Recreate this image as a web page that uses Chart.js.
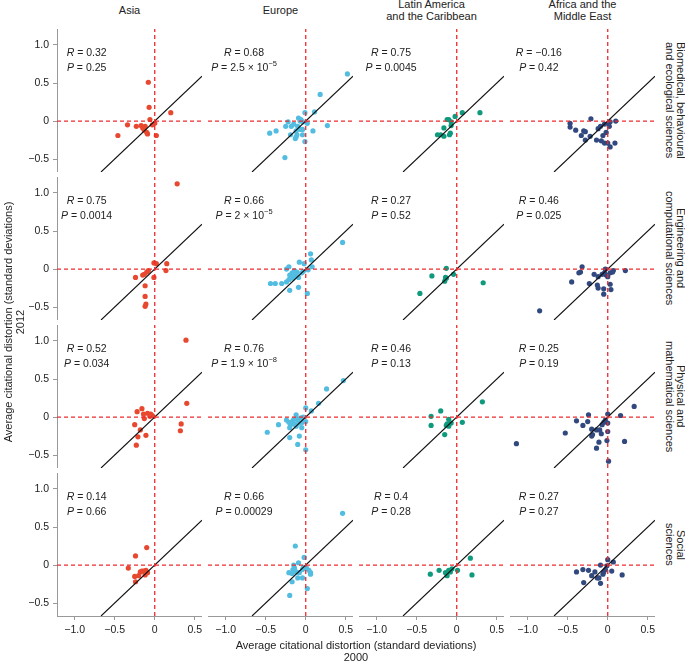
<!DOCTYPE html>
<html>
<head>
<meta charset="utf-8">
<script src="https://cdn.jsdelivr.net/npm/chart.js@4.4.1/dist/chart.umd.min.js"></script>
<style>
    body { margin: 0; background: #fff; font-family: 'Liberation Sans', Arial, sans-serif; color: #222; }
    #wrap { position: relative; width: 685px; height: 662px; overflow: hidden; }
    canvas { position: absolute; }
    .title { position: absolute; font-size: 11px; line-height: 11.5px; text-align: center; white-space: nowrap; }
    .side { position: absolute; writing-mode: vertical-rl; font-size: 11px; line-height: 11px; text-align: center; white-space: nowrap; }
    .axtitle { position: absolute; font-size: 11px; line-height: 12px; text-align: center; white-space: nowrap; }
</style>
</head>
<body>
<div id="wrap"></div>
<script>
// Данные

const regions = ['Asia', 'Europe', 'Latin America<br>and the Caribbean', 'Africa and the<br>Middle East'];
const fields = ['Biomedical, behavioural<br>and ecological sciences', 'Engineering and<br>computational sciences',
    'Physical and<br>mathematical sciences', 'Social<br>sciences'];
const regionColors = ['#e8482f', '#52bde0', '#0f9a7e', '#31497f'];

const xTicks = [-1.0, -0.5, 0, 0.5];
const xTickLabels = ['\u22121.0', '\u22120.5', '0', '0.5'];
const yTicks = [-0.5, 0, 0.5, 1.0];
const yTickLabels = ['\u22120.5', '0', '0.5', '1.0'];
const xRange = [-1.22, 0.59];
const yRange = [-0.67, 1.21];

const rStats = [
    ['0.32', '0.68', '0.75', '\u22120.16'],
    ['0.75', '0.66', '0.27', '0.46'],
    ['0.52', '0.76', '0.46', '0.25'],
    ['0.14', '0.66', '0.4', '0.27']
];
const pStats = [
    ['0.25', '2.5 \u00d7 10^\u22125', '0.0045', '0.42'],
    ['0.0014', '2 \u00d7 10^\u22125', '0.52', '0.025'],
    ['0.034', '1.9 \u00d7 10^\u22128', '0.13', '0.19'],
    ['0.66', '0.00029', '0.28', '0.27']
];

// [2000, 2012]
const asiaBio = [[-0.08,0.51],[-0.07,0.18],[0.20,0.11],[-0.06,0.02],[0.0,-0.03],[-0.03,-0.05],[-0.34,-0.05],[-0.23,-0.07],
    [-0.17,-0.06],[-0.15,-0.09],[-0.12,-0.07],[-0.13,-0.12],[-0.10,-0.15],[-0.09,-0.17],[-0.46,-0.19],[0.02,-0.19]];
const europeBio = [[0.52,0.62],[0.18,0.35],[0.11,0.12],[-0.01,0.11],[-0.09,0.04],[-0.06,0.02],[-0.22,-0.01],[0.27,-0.06],
    [-0.25,-0.07],[-0.18,-0.07],[-0.15,-0.04],[-0.10,-0.07],[-0.07,-0.11],[-0.12,-0.13],[-0.04,-0.11],[0.02,-0.03],
    [0.09,-0.13],[-0.37,-0.13],[-0.45,-0.16],[-0.19,-0.18],[-0.11,-0.18],[-0.04,-0.18],[-0.13,-0.23],[-0.12,-0.21],
    [-0.01,-0.27],[-0.26,-0.48],[-0.07,0.0],[-0.03,-0.01]];
const latinBio = [[0.29,0.11],[0.07,0.11],[-0.02,0.06],[-0.12,0.02],[-0.10,0.02],[-0.07,-0.01],[-0.16,-0.09],[-0.07,-0.06],
    [-0.24,-0.18],[-0.20,-0.18],[-0.16,-0.20],[-0.09,-0.18],[-0.08,-0.16]];
const africaBio = [[-0.21,0.03],[-0.47,-0.03],[-0.47,-0.08],[-0.40,-0.12],[-0.30,-0.13],[-0.28,-0.14],[-0.33,-0.19],[-0.22,-0.20],
    [-0.12,-0.10],[-0.09,-0.07],[-0.04,-0.04],[0.01,-0.03],[0.02,-0.07],[0.10,0.0],[0.03,-0.01],[-0.02,-0.15],
    [-0.14,-0.25],[-0.08,-0.26],[-0.04,-0.29],[0.0,-0.29],[0.09,-0.29],[0.03,-0.34],[-0.28,-0.25],[-0.06,-0.19]];

const asiaEng = [[0.28,1.12],[-0.01,0.08],[0.02,0.07],[0.15,0.07],[0.14,-0.02],[-0.08,-0.02],[-0.10,-0.04],[-0.13,-0.07],
    [-0.15,-0.08],[-0.24,-0.11],[-0.01,-0.11],[-0.12,-0.22],[-0.12,-0.36],[-0.11,-0.46],[-0.12,-0.49]];
const europeEng = [[0.46,0.35],[0.06,0.20],[0.07,0.12],[-0.08,0.09],[-0.02,0.07],[0.08,0.03],[-0.21,0.03],[-0.24,0.0],
    [0.03,-0.01],[-0.11,-0.04],[-0.17,-0.05],[-0.20,-0.08],[-0.15,-0.09],[-0.18,-0.11],[-0.09,-0.11],[-0.21,-0.14],
    [-0.24,-0.17],[-0.30,-0.19],[-0.38,-0.19],[-0.44,-0.19],[-0.09,-0.24],[-0.20,-0.28],[0.02,-0.32],[-0.03,-0.03],
    [-0.05,-0.05],[-0.12,-0.08],[-0.14,-0.02],[-0.16,-0.12]];
const latinEng = [[-0.13,0.01],[-0.31,-0.09],[-0.14,-0.11],[-0.15,-0.16],[-0.04,-0.07],[0.33,-0.18],[-0.46,-0.32],[-0.13,-0.12]];
const africaEng = [[0.22,-0.02],[-0.32,0.03],[-0.34,-0.04],[-0.36,-0.05],[-0.45,-0.17],[-0.23,-0.19],[-0.17,-0.07],[-0.12,-0.10],
    [-0.07,-0.07],[-0.03,0.0],[-0.04,-0.05],[0.0,-0.10],[0.06,-0.04],[0.07,-0.02],[-0.13,-0.21],[-0.12,-0.25],
    [-0.05,-0.26],[0.03,-0.20],[0.04,-0.27],[-0.05,-0.33],[-0.85,-0.55],[-0.02,-0.08],[0.03,-0.05]];

const asiaPhys = [[0.39,1.01],[0.40,0.18],[-0.22,0.07],[-0.16,0.11],[-0.14,0.04],[-0.09,0.05],[-0.05,0.04],[-0.03,0.02],
    [-0.13,-0.02],[-0.06,0.01],[-0.25,-0.10],[-0.18,-0.17],[-0.21,-0.26],[-0.11,-0.24],[-0.23,-0.37],[0.33,-0.09],[0.32,-0.18]];
const europePhys = [[0.47,0.48],[0.26,0.37],[0.16,0.18],[0.07,0.08],[0.0,0.12],[-0.12,0.03],[-0.24,-0.04],[-0.21,-0.07],
    [-0.17,-0.06],[-0.15,-0.03],[-0.10,-0.04],[-0.06,-0.01],[-0.03,0.0],[0.0,-0.06],[-0.34,-0.10],[-0.48,-0.20],
    [-0.20,-0.14],[-0.12,-0.12],[-0.05,-0.14],[-0.20,-0.27],[-0.08,-0.25],[-0.10,-0.36],[0.0,-0.43],[-0.19,-0.10],
    [-0.08,-0.08],[-0.14,-0.09],[-0.04,-0.07],[-0.11,-0.02]];
const latinPhys = [[0.32,0.20],[-0.20,0.08],[-0.32,0.01],[-0.32,-0.11],[-0.10,-0.03],[-0.12,-0.09],[-0.07,-0.08],[-0.10,-0.12],
    [0.07,-0.07],[-0.15,-0.23],[-0.13,-0.11]];
const africaPhys = [[0.33,0.14],[0.16,0.02],[-0.24,0.03],[0.0,0.04],[-0.39,-0.05],[-0.25,-0.06],[-0.31,-0.11],[-0.53,-0.21],
    [-0.20,-0.16],[-0.14,-0.17],[-0.10,-0.17],[-0.07,-0.10],[-0.05,-0.07],[-0.03,-0.04],[0.0,-0.08],[0.0,-0.19],
    [-0.08,-0.22],[-0.19,-0.23],[-0.20,-0.25],[-0.11,-0.33],[-0.01,-0.31],[-0.14,-0.41],[0.21,-0.32],[-1.14,-0.35],[0.01,-0.58]];

const asiaSoc = [[-0.10,0.23],[-0.24,0.12],[-0.33,-0.04],[-0.25,-0.15],[-0.20,-0.14],[-0.18,-0.09],[-0.14,-0.08],[-0.11,-0.07],
    [-0.09,-0.10],[-0.12,-0.13],[-0.24,-0.22],[-0.16,-0.08]];
const europeSoc = [[0.46,0.68],[-0.13,0.25],[-0.02,0.10],[-0.09,0.03],[-0.15,0.0],[-0.16,-0.06],[-0.21,-0.10],[-0.17,-0.11],
    [-0.12,-0.09],[-0.08,-0.10],[-0.04,-0.06],[0.01,-0.04],[0.04,-0.07],[0.06,-0.10],[0.06,-0.12],[-0.10,-0.17],
    [-0.04,-0.17],[-0.17,-0.22],[0.02,-0.31],[-0.20,-0.40],[-0.14,-0.04],[-0.03,-0.03]];
const latinSoc = [[0.17,0.09],[-0.33,-0.12],[-0.22,-0.07],[-0.14,-0.10],[-0.10,-0.07],[-0.06,-0.05],[-0.12,-0.14],[0.01,-0.07],
    [0.19,-0.13],[-0.08,-0.09]];
const africaSoc = [[0.07,0.04],[0.0,0.07],[-0.09,0.0],[-0.39,-0.09],[-0.31,-0.06],[-0.24,-0.07],[-0.16,-0.09],[-0.20,-0.14],
    [-0.13,-0.17],[-0.11,-0.17],[-0.06,-0.12],[-0.05,-0.09],[-0.03,-0.06],[0.05,-0.08],[0.18,-0.13],[-0.30,-0.23],
    [-0.09,-0.24],[-0.01,-0.01]];

const panelData = [
    [asiaBio, europeBio, latinBio, africaBio],
    [asiaEng, europeEng, latinEng, africaEng],
    [asiaPhys, europePhys, latinPhys, africaPhys],
    [asiaSoc, europeSoc, latinSoc, africaSoc]
];

// Раскладка

const PLOT_LEFT = [57, 208, 359, 510];
const PLOT_TOP = [29, 177, 325, 473];
const PW = 145, PH = 143;
const AXIS_W = 45, AXIS_H = 25;
const STAT_CX = [-0.85, -0.77, -0.82, -0.86];
const RED = '#ee2a2e';
const FONT = "'Liberation Sans', Arial, sans-serif";

const wrap = document.getElementById('wrap');

function addDiv(cls, html, css) {
    const d = document.createElement('div');
    d.className = cls;
    d.innerHTML = html;
    Object.assign(d.style, css);
    wrap.appendChild(d);
    return d;
}

function drawStat(ctx, cx, cy, letter, text) {
    const parts = text.split('^');
    const base = ' = ' + parts[0];
    const fItal = 'italic 10.5px ' + FONT, fNorm = '10.5px ' + FONT, fSup = '7.5px ' + FONT;
    ctx.font = fItal; const w1 = ctx.measureText(letter).width;
    ctx.font = fNorm; const w2 = ctx.measureText(base).width;
    ctx.font = fSup; const w3 = parts[1] ? ctx.measureText(parts[1]).width : 0;
    let x = cx - (w1 + w2 + w3) / 2;
    ctx.fillStyle = '#222';
    ctx.textBaseline = 'middle';
    ctx.textAlign = 'left';
    ctx.font = fItal; ctx.fillText(letter, x, cy); x += w1;
    ctx.font = fNorm; ctx.fillText(base, x, cy); x += w2;
    if (parts[1]) { ctx.font = fSup; ctx.fillText(parts[1], x, cy - 4); }
}

const statsPlugin = {
    id: 'stats',
    afterDatasetsDraw(chart, args, opts) {
        const { ctx, scales: { x, y } } = chart;
        const cx = x.getPixelForValue(opts.cx);
        ctx.save();
        drawStat(ctx, cx, y.getPixelForValue(0.89), 'R', opts.r);
        drawStat(ctx, cx, y.getPixelForValue(0.70), 'P', opts.p);
        ctx.restore();
    }
};

// без внутренних отступов шкалы, чтобы область графика совпадала с панелью
function noPad(s) {
    s.paddingTop = 0;
    s.paddingBottom = 0;
    s.paddingLeft = 0;
    s.paddingRight = 0;
}

function makePanel(r, c) {
    const showY = c === 0, showX = r === 3;
    const w = PW + (showY ? AXIS_W : 0), h = PH + (showX ? AXIS_H : 0);
    const cv = document.createElement('canvas');
    cv.width = w; cv.height = h;
    cv.style.width = w + 'px'; cv.style.height = h + 'px';
    cv.style.left = (PLOT_LEFT[c] - (showY ? AXIS_W : 0)) + 'px';
    cv.style.top = PLOT_TOP[r] + 'px';
    wrap.appendChild(cv);

    const pts = panelData[r][c];
    const lineStyle = { showLine: true, pointRadius: 0, pointHoverRadius: 0, fill: false };

    new Chart(cv, {
        type: 'scatter',
        data: {
            datasets: [
                {
                    data: pts.map(p => ({ x: p[0], y: p[1] })),
                    backgroundColor: regionColors[c],
                    borderWidth: 0,
                    pointRadius: 2.6,
                    order: 3
                },
                Object.assign({
                    data: [{ x: yRange[0], y: yRange[0] }, { x: xRange[1], y: xRange[1] }],
                    borderColor: '#111',
                    borderWidth: 1.1,
                    order: 2
                }, lineStyle),
                Object.assign({
                    data: [{ x: 0, y: yRange[0] }, { x: 0, y: yRange[1] }],
                    borderColor: RED,
                    borderWidth: 1.3,
                    borderDash: [4, 3],
                    order: 1
                }, lineStyle),
                Object.assign({
                    data: [{ x: xRange[0], y: 0 }, { x: xRange[1], y: 0 }],
                    borderColor: RED,
                    borderWidth: 1.3,
                    borderDash: [4, 3],
                    order: 1
                }, lineStyle)
            ]
        },
        options: {
            responsive: false,
            animation: false,
            devicePixelRatio: 1,
            layout: { padding: 0, autoPadding: false },
            plugins: {
                legend: { display: false },
                tooltip: { enabled: false },
                stats: { cx: STAT_CX[c], r: rStats[r][c], p: pStats[r][c] }
            },
            scales: {
                x: {
                    type: 'linear',
                    min: xRange[0],
                    max: xRange[1],
                    display: showX,
                    afterFit: s => { s.height = showX ? AXIS_H : 0; noPad(s); },
                    afterBuildTicks: s => { s.ticks = xTicks.map(v => ({ value: v })); },
                    ticks: {
                        callback: (v, i) => xTickLabels[i],
                        font: { size: 10.5, family: FONT },
                        color: '#222',
                        padding: 4,
                        maxRotation: 0,
                        autoSkip: false
                    },
                    grid: { display: true, drawOnChartArea: false, drawTicks: true, tickLength: 4, color: '#999' },
                    border: { display: true, color: '#999', width: 1 }
                },
                y: {
                    type: 'linear',
                    min: yRange[0],
                    max: yRange[1],
                    display: showY,
                    afterFit: s => { s.width = showY ? AXIS_W : 0; noPad(s); },
                    afterBuildTicks: s => { s.ticks = yTicks.map(v => ({ value: v })); },
                    ticks: {
                        callback: (v, i) => yTickLabels[i],
                        font: { size: 10.5, family: FONT },
                        color: '#222',
                        padding: 4,
                        autoSkip: false
                    },
                    grid: { display: true, drawOnChartArea: false, drawTicks: true, tickLength: 4, color: '#999' },
                    border: { display: true, color: '#999', width: 1 }
                }
            }
        },
        plugins: [statsPlugin]
    });
}

for (let r = 0; r < 4; r++) {
    for (let c = 0; c < 4; c++) {
        makePanel(r, c);
    }
}

// Подписи

regions.forEach((name, c) => {
    addDiv('title', name, {
        left: PLOT_LEFT[c] + 'px', width: PW + 'px', top: '-1px', height: '23px',
        display: 'flex', alignItems: 'center', justifyContent: 'center'
    });
});

fields.forEach((name, r) => {
    addDiv('side', name, { left: '664px', width: '22px', top: PLOT_TOP[r] + 'px', height: PH + 'px' });
});

addDiv('axtitle', 'Average citational distortion (standard deviations)<br>2012', {
    left: (14 - 300) + 'px', top: (322 - 12) + 'px', width: '600px', height: '24px',
    transform: 'rotate(-90deg)', transformOrigin: '50% 50%'
});

addDiv('axtitle', 'Average citational distortion (standard deviations)<br>2000', {
    left: (356 - 300) + 'px', top: '639px', width: '600px', height: '24px'
});
</script>
</body>
</html>
